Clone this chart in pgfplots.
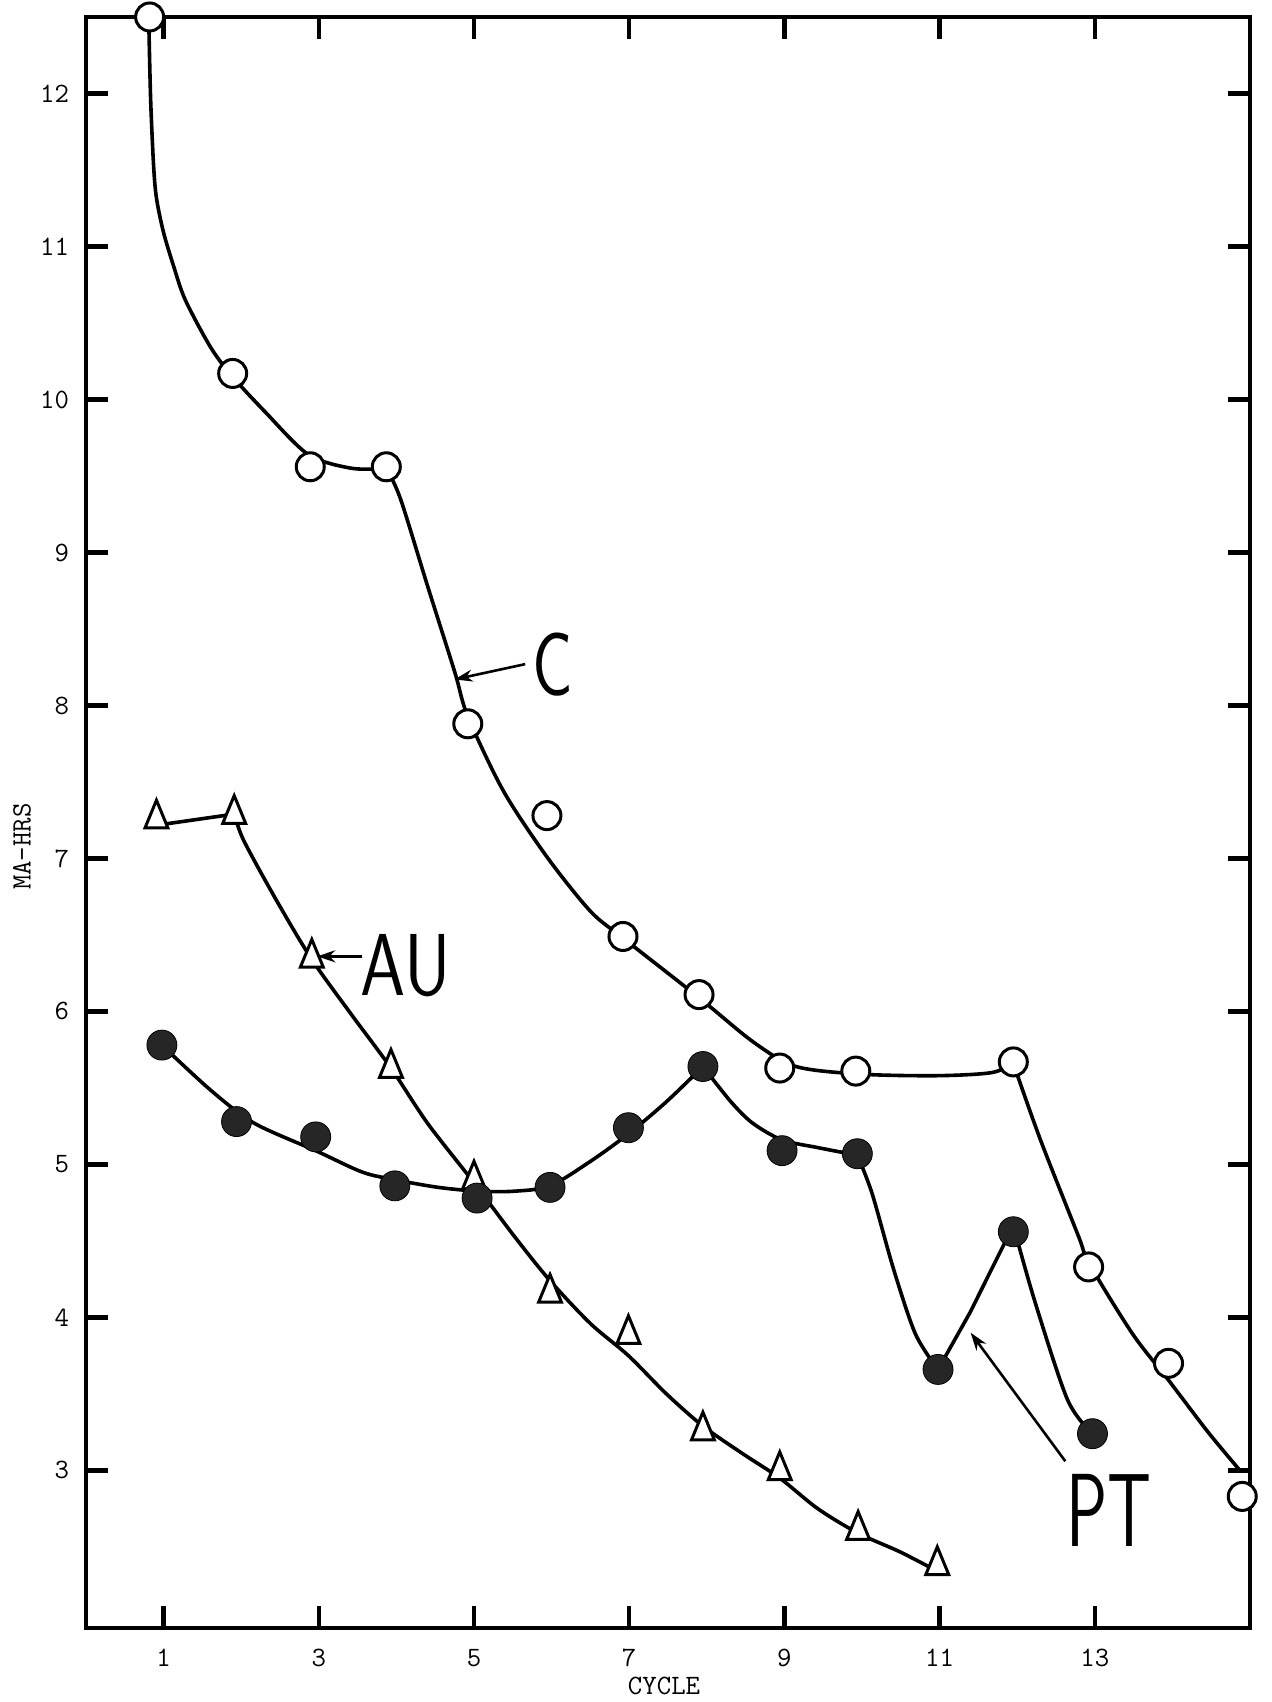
\documentclass[border=0pt]{standalone}
\usepackage{pgfplots}
\pgfplotsset{compat=1.18}
\usetikzlibrary{arrows.meta}
\usepackage{graphicx}
\begin{document}
\begin{tikzpicture}
\begin{axis}[
  at={(0,0)}, anchor=south west,
  scale only axis, width=582pt, height=805.5pt,
  xmin=0, xmax=15, ymin=1.97, ymax=12.5,
  xtick={1,3,...,13}, ytick={3,4,...,12},
  xtick pos=both, ytick pos=both,
  xticklabel pos=lower, yticklabel pos=left,
  axis line style={line width=2.2pt},
  major tick style={black, line width=2.2pt},
  major tick length=11pt,
  tick align=inside,
  tick label style={font=\ttfamily\fontsize{14}{14}\selectfont},
  /pgf/number format/assume math mode=true,
  xticklabel style={yshift=-7pt},
  yticklabel style={xshift=-5pt},
  clip=false,
]
% ---- curves ----
% C
\addplot[line width=1.8pt, smooth, tension=0.5, no markers] coordinates {
(0.81,12.45) (0.833,11.96) (0.872,11.52) (0.91,11.31) (1.0,11.09) (1.13,10.87)
(1.28,10.65) (1.607,10.34) (1.887,10.15) (2.306,9.92) (2.865,9.64) (3.424,9.55) (3.871,9.55)};
\addplot[line width=1.8pt, smooth, tension=0.5, no markers] coordinates {
(3.871,9.55) (4.053,9.35) (4.402,8.78) (4.751,8.22) (4.919,7.93) (5.38,7.44) (5.94,7.01)
(6.50,6.655) (6.92,6.48) (7.90,6.09) (8.60,5.80) (9.15,5.64) (9.99,5.59) (10.97,5.58)
(11.67,5.60) (11.95,5.66)};
\addplot[line width=1.8pt, smooth, tension=0.5, no markers] coordinates {
(11.95,5.66) (12.30,5.16) (12.79,4.53) (12.93,4.35) (13.49,3.89) (13.95,3.59) (14.46,3.25) (14.87,3.0)};
% AU
\addplot[line width=1.8pt, no markers] coordinates {(0.95,7.22) (1.914,7.29)};
\addplot[line width=1.8pt, smooth, tension=0.5, no markers] coordinates {
(1.914,7.29) (2.03,7.12) (2.45,6.73) (2.91,6.34) (3.42,5.98) (3.93,5.63) (4.40,5.27)
(5.00,4.88) (5.52,4.53) (5.98,4.24) (6.50,3.96) (6.99,3.75) (7.48,3.50) (7.95,3.29)
(8.46,3.11) (8.94,2.95) (9.43,2.75) (9.95,2.59) (10.48,2.47) (10.90,2.36)};
% PT
\addplot[line width=1.8pt, smooth, tension=0.5, no markers] coordinates {
(0.978,5.78) (1.607,5.485) (2.166,5.27) (2.96,5.09) (3.56,4.95) (3.98,4.90) (4.54,4.85)
(5.06,4.825) (5.52,4.825) (5.98,4.86) (6.50,5.02) (6.99,5.20) (7.48,5.41) (7.95,5.64)};
\addplot[line width=1.8pt, smooth, tension=0.5, no markers] coordinates {
(7.95,5.64) (8.31,5.41) (8.59,5.27) (8.97,5.16) (9.43,5.11) (9.94,5.06)};
\addplot[line width=1.8pt, smooth, tension=0.5, no markers] coordinates {
(9.94,5.06) (10.13,4.81) (10.41,4.31) (10.69,3.89) (10.98,3.66)};
\addplot[line width=1.8pt, no markers] coordinates {(10.98,3.66) (11.39,4.03) (11.95,4.60)};
\addplot[line width=1.8pt, smooth, tension=0.5, no markers] coordinates {
(11.95,4.60) (12.23,4.10) (12.65,3.46) (12.97,3.24)};
% ---- markers ----
% C : open circles
\addplot[only marks, mark=*, mark size=7pt, mark options={draw=black, fill=white, line width=1.5pt}] coordinates {
(0.82,12.5) (1.89,10.17) (2.89,9.56) (3.87,9.56) (4.92,7.88) (5.94,7.28) (6.92,6.49)
(7.90,6.11) (8.94,5.63) (9.92,5.61) (11.95,5.67) (12.92,4.33) (13.95,3.70) (14.9,2.83)};
% AU : open triangles
\addplot[only marks, mark=triangle*, mark size=6.6pt, mark options={draw=black, fill=white, line width=1.5pt, yscale=1.4}] coordinates {
(0.908,7.26) (1.91,7.29) (2.91,6.35) (3.93,5.63) (5.00,4.90) (5.98,4.16) (6.99,3.89)
(7.95,3.26) (8.94,3.00) (9.95,2.61) (10.97,2.38)};
% PT : filled circles
\addplot[only marks, mark=*, mark size=7.5pt, mark options={draw=black, fill=black!85}] coordinates {
(0.978,5.78) (1.94,5.28) (2.96,5.18) (3.98,4.86) (5.04,4.78) (5.98,4.85) (6.99,5.24)
(7.95,5.64) (8.97,5.09) (9.94,5.07) (10.98,3.66) (11.95,4.56) (12.97,3.24)};
% ---- annotations ----
\node[font=\sffamily\fontsize{45}{45}\selectfont, inner sep=0pt] at (axis cs:6.01,8.27) {\scalebox{0.75}[1]{C}};
\draw[line width=1.3pt, -{Stealth[length=9pt,width=6pt]}] (axis cs:5.66,8.27) -- (axis cs:4.75,8.17);
\node[font=\sffamily\fontsize{44}{44}\selectfont, inner sep=0pt] at (axis cs:4.12,6.30) {\scalebox{0.82}[1]{AU}};
\draw[line width=1.3pt, -{Stealth[length=9pt,width=6pt]}] (axis cs:3.56,6.36) -- (axis cs:2.98,6.36);
\node[font=\sffamily\fontsize{52}{52}\selectfont, inner sep=0pt] at (axis cs:13.18,2.74) {\scalebox{0.66}[1]{PT}};
\draw[line width=1.3pt, -{Stealth[length=9pt,width=6pt]}] (axis cs:12.62,3.06) -- (axis cs:11.40,3.90);
% ---- axis titles ----
\node[font=\ttfamily\fontsize{14}{14}\selectfont, rotate=90] at ([xshift=-32pt]axis description cs:0,0.485) {MA-HRS};
\node[font=\ttfamily\fontsize{14}{14}\selectfont] at ([yshift=-29pt]axis description cs:0.4966,0) {CYCLE};
\end{axis}
\pgfresetboundingbox
\useasboundingbox (-43pt,-37pt) rectangle (592.5pt,814pt);
\end{tikzpicture}
\end{document}
